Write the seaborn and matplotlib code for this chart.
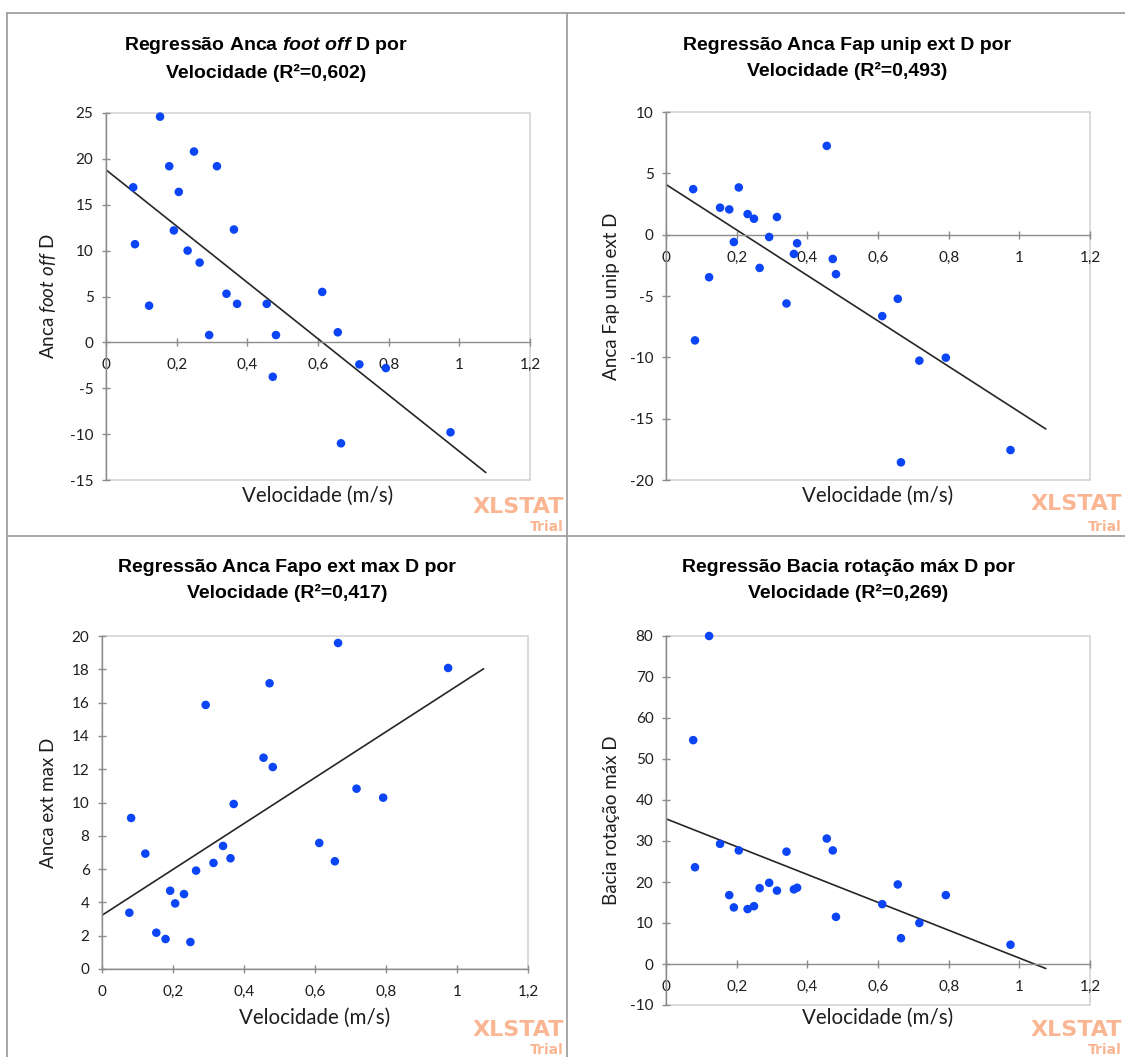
import numpy as np
import pandas as pd
import matplotlib
matplotlib.use("Agg")
import matplotlib.pyplot as plt
import seaborn as sns
from matplotlib.lines import Line2D

# ---------------- data ----------------
velocidade = [0.077, 0.082, 0.122, 0.153, 0.179, 0.192, 0.206, 0.231, 0.249, 0.265,
              0.292, 0.314, 0.341, 0.362, 0.371, 0.455, 0.472, 0.481, 0.612, 0.656,
              0.665, 0.717, 0.792, 0.975]
anca_foot_off_d = [16.9, 10.7, 4.0, 24.6, 19.2, 12.2, 16.4, 10.0, 20.8, 8.7,
                   0.8, 19.2, 5.3, 12.3, 4.2, 4.2, -3.75, 0.8, 5.5, 1.1,
                   -11.0, -2.4, -2.8, -9.8]
anca_fap_unip_ext_d = [3.71, -8.62, -3.47, 2.2, 2.06, -0.60, 3.85, 1.68, 1.30, -2.71,
                       -0.19, 1.44, -5.61, -1.57, -0.70, 7.24, -1.98, -3.22, -6.64, -5.23,
                       -18.56, -10.27, -10.03, -17.56]
anca_ext_max_d = [3.38, 9.07, 6.93, 2.18, 1.80, 4.70, 3.94, 4.50, 1.62, 5.91,
                  15.86, 6.37, 7.39, 6.65, 9.91, 12.69, 17.16, 12.13, 7.57, 6.47,
                  19.58, 10.83, 10.29, 18.08]
bacia_rotacao_max_d = [54.6, 23.6, 80.0, 29.3, 16.8, 13.8, 27.7, 13.4, 14.1, 18.5,
                       19.8, 17.9, 27.4, 18.2, 18.6, 30.6, 27.7, 11.5, 14.6, 19.4,
                       6.3, 10.0, 16.8, 4.7]

titles = [
    "Regressão Anca $\\mathit{foot\\ off}$ D por\nVelocidade (R²=0,602)",
    "Regressão Anca Fap unip ext D por\nVelocidade (R²=0,493)",
    "Regressão Anca Fapo ext max D por\nVelocidade (R²=0,417)",
    "Regressão Bacia rotação máx D por\nVelocidade (R²=0,269)",
]
ylabels = [
    "Anca $\\mathcal{foot\\ off}$ D",
    "Anca Fap unip ext D",
    "Anca ext max D",
    "Bacia rotação máx D",
]
xlabel = "Velocidade (m/s)"
x_ticks = [0, 0.2, 0.4, 0.6, 0.8, 1.0, 1.2]
x_ticklabels = ["0", "0,2", "0,4", "0,6", "0,8", "1", "1,2"]
y_ticks = [
    [-15, -10, -5, 0, 5, 10, 15, 20, 25],
    [-20, -15, -10, -5, 0, 5, 10],
    [0, 2, 4, 6, 8, 10, 12, 14, 16, 18, 20],
    [-10, 0, 10, 20, 30, 40, 50, 60, 70, 80],
]
series = [anca_foot_off_d, anca_fap_unip_ext_d, anca_ext_max_d, bacia_rotacao_max_d]

# ---------------- style / layout ----------------
sns.set_theme(style="white")
plt.rcParams["font.family"] = ["Lato", "DejaVu Sans"]
plt.rcParams["mathtext.fontset"] = "custom"
plt.rcParams["mathtext.it"] = "Liberation Sans:italic:bold"
plt.rcParams["mathtext.cal"] = "Lato:italic"

W, H, DPI = 1125, 1057, 100
POINT = "#0B45F5"
LINE = "#262626"
AXIS = "#8C8C8C"
FRAME = "#D4D4D4"
BORDER = "#A0A0A0"
TXT = "#1E1E1E"
WM = "#FAB692"
LINE_END = 1.075

fig = plt.figure(figsize=(W / DPI, H / DPI), dpi=DPI)
fig.patch.set_facecolor("white")


def fx(x):
    return x / W


def fy(y):
    return 1 - y / H


# panel rectangles in pixels: left, top, right, bottom of plot area
rects = [(106, 113, 530, 480), (666, 112, 1090, 480),
         (102, 636, 528, 969), (666, 636, 1090, 1005)]
title_pos = [(266, 58.5), (847, 58.5), (287, 580.5), (848, 580.5)]
ylabel_x = [48, 611, 48, 611]
xlabel_y = [496, 496, 1018, 1018]
wm_pos = [(564, 507, 527), (1122, 504, 527), (564, 1030, 1050), (1122, 1030, 1050)]

for i in range(4):
    l, t, r, b = rects[i]
    ax = fig.add_axes([fx(l), fy(b), (r - l) / W, (b - t) / H])
    df = pd.DataFrame({"Velocidade": velocidade, "valor": series[i]})
    ax.set_xlim(0, LINE_END)
    sns.regplot(data=df, x="Velocidade", y="valor", ax=ax, scatter=False, ci=None,
                truncate=False, line_kws=dict(color=LINE, lw=1.2))
    sns.scatterplot(data=df, x="Velocidade", y="valor", ax=ax, color=POINT, s=38,
                    edgecolor="none", linewidth=0, zorder=3, clip_on=False)
    yt = y_ticks[i]
    ax.set_xlim(0, 1.2)
    ax.set_ylim(yt[0], yt[-1])
    ax.set_xticks(x_ticks)
    ax.set_xticklabels(x_ticklabels)
    ax.set_yticks(yt)
    ax.set_yticklabels([str(v) for v in yt])

    ax.spines["top"].set_visible(False)
    ax.spines["right"].set_visible(False)
    ax.spines["left"].set_color(AXIS)
    ax.spines["bottom"].set_color(AXIS)
    ax.spines["left"].set_linewidth(1.0)
    ax.spines["bottom"].set_linewidth(1.0)
    ax.spines["bottom"].set_position(("data", 0))
    ax.patch.set_edgecolor(FRAME)
    ax.patch.set_linewidth(1.2)
    ax.tick_params(axis="both", which="major", direction="inout", length=6, width=1.0,
                   color=AXIS, labelsize=11, labelcolor=TXT, bottom=True, left=True)
    ax.tick_params(axis="x", pad=8.5)
    ax.tick_params(axis="y", pad=6)

    cx = (l + r) / 2
    cy = (t + b) / 2
    ax.set_xlabel(xlabel, fontsize=14.8, color=TXT)
    ax.xaxis.set_label_coords((cx - l) / (r - l), (b - xlabel_y[i]) / (b - t))
    ax.xaxis.label.set_va("center")
    ax.set_ylabel(ylabels[i], fontsize=13.5, color=TXT)
    ax.yaxis.set_label_coords((ylabel_x[i] - l) / (r - l), (b - cy) / (b - t))
    ax.yaxis.label.set_va("center")

    tx, ty = title_pos[i]
    fig.text(fx(tx), fy(ty), titles[i], ha="center", va="center", fontsize=14,
             fontweight="bold", family=["Liberation Sans"], color="#000000",
             linespacing=1.55)

    wx, wy1, wy2 = wm_pos[i]
    fig.text(fx(wx), fy(wy1), "XLSTAT", ha="right", va="center", fontsize=16,
             fontweight="bold", family=["DejaVu Sans"], color=WM)
    fig.text(fx(wx), fy(wy2), "Trial", ha="right", va="center", fontsize=10,
             fontweight="bold", family=["DejaVu Sans"], color=WM)

# panel borders
for (x0, y0, x1, y1) in [(7, 13, 1125, 13), (7, 13, 7, 1057),
                         (567, 13, 567, 1057), (7, 536, 1125, 536)]:
    fig.add_artist(Line2D([fx(x0), fx(x1)], [fy(y0), fy(y1)], color=BORDER, lw=1.3,
                          transform=fig.transFigure))

fig.savefig("out.png", dpi=DPI, facecolor="white")
